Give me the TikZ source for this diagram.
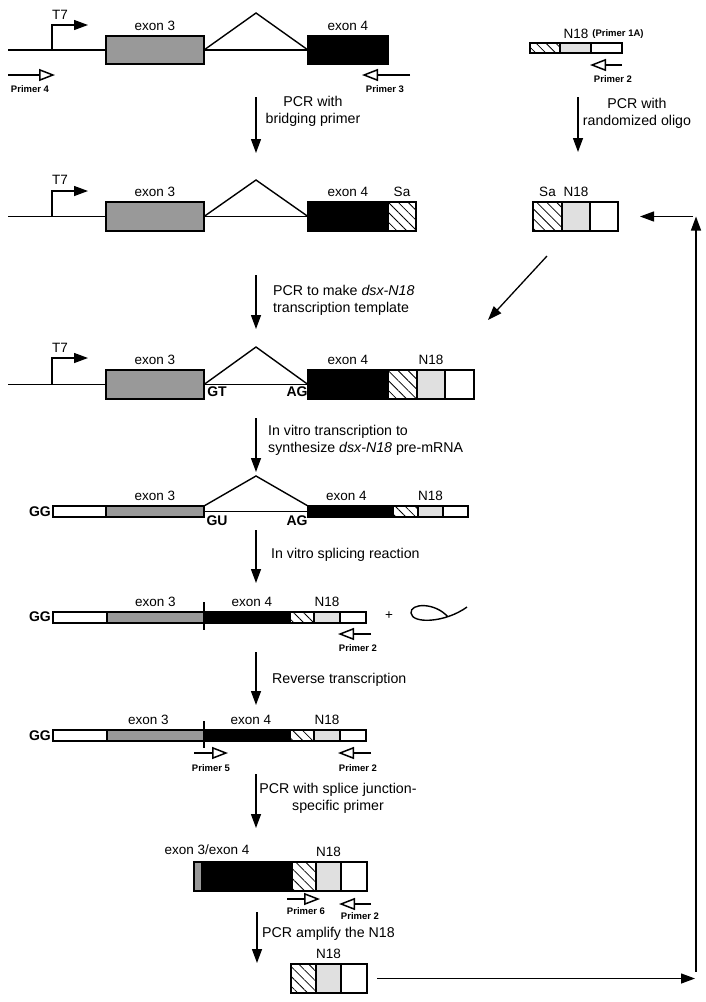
\documentclass[tikz,border=0pt]{standalone}
\usepackage{fontspec}
\setmainfont{Liberation Sans}
\usetikzlibrary{positioning, arrows.meta, patterns.meta}
\definecolor{exongray}{gray}{0.6}
\definecolor{randgray}{gray}{0.88}
\tikzstyle{seg} = [rectangle, draw=black, line width=1.2pt, inner sep=0pt, outer sep=0pt]
\tikzstyle{exonthree} = [seg, fill=exongray]
\tikzstyle{exonfour} = [seg, fill=black]
\tikzstyle{salink} = [seg, pattern={Lines[angle=-45,distance=7pt,line width=0.8pt]}]
\tikzstyle{randomer} = [seg, fill=randgray]
\tikzstyle{tailseg} = [seg, fill=white]
\tikzstyle{dna} = [line width=1.4pt]
\tikzstyle{arrow} = [line width=1.3pt, -{Triangle[length=14pt,width=10pt]}]
\tikzstyle{primer} = [line width=1.5pt, -{Triangle[open,length=16pt,width=12pt]}]
\tikzstyle{exonlabel} = [font=\fontsize{13.5}{15}\selectfont, inner sep=1pt]
\tikzstyle{steplabel} = [font=\fontsize{14.2}{17}\selectfont, align=left, anchor=west, inner sep=0pt]
\tikzstyle{primerlabel} = [font=\bfseries\fontsize{9.5}{11}\selectfont, inner sep=0pt]
\tikzstyle{site} = [font=\bfseries\fontsize{14}{15}\selectfont, inner sep=0pt]
\begin{document}
\begin{tikzpicture}[x=1pt, y=-1pt]
    \useasboundingbox (0,0) rectangle (706,1002);

    % Row 1: dsx genomic template
    \coordinate (r1start) at (8,50);
    \node (ex3a) [exonthree, minimum width=98pt, minimum height=28pt] at (155,50) {};
    \node (ex4a) [exonfour, minimum width=80pt, minimum height=28pt] at (348,50) {};
    \coordinate (apexa) at (256,13);
    \draw [dna] (r1start) -- (ex3a.west);
    \draw [dna] (ex3a.east) -- (ex4a.west);
    \draw [dna] (ex3a.east) -- (apexa) -- (ex4a.west);
    \coordinate (t7a) at (52,50);
    \coordinate (t7atip) at (88,25);
    \draw [arrow] (t7a) |- (t7atip);
    \node (t7alab) [exonlabel] at (60,15) {T7};
    \node (ex3alab) [exonlabel, above=4pt of ex3a] {exon 3};
    \node (ex4alab) [exonlabel, above=4pt of ex4a] {exon 4};
    \coordinate (p4tail) at (8,75);
    \coordinate (p4tip) at (55,75);
    \draw [primer] (p4tail) -- (p4tip);
    \node (p4lab) [primerlabel] at (30,89) {Primer 4};
    \coordinate (p3tail) at (410,75);
    \coordinate (p3tip) at (362,75);
    \draw [primer] (p3tail) -- (p3tip);
    \node (p3lab) [primerlabel] at (385,89) {Primer 3};

    % Randomized oligo (top right)
    \node (saa) [salink, minimum width=30pt, minimum height=10pt] at (545,48) {};
    \node (nra) [randomer, minimum width=31pt, minimum height=10pt] at (575.5,48) {};
    \node (twa) [tailseg, minimum width=31pt, minimum height=10pt] at (606.5,48) {};
    \node (nralab) [exonlabel] at (576,34) {N18};
    \node (p1alab) [primerlabel] at (618,34) {(Primer 1A)};
    \coordinate (p2atail) at (622,65);
    \coordinate (p2atip) at (590,65);
    \draw [primer] (p2atail) -- (p2atip);
    \node (p2alab) [primerlabel] at (613,79) {Primer 2};

    % Steps 1 (left and right)
    \coordinate (s1top) at (256,97);
    \coordinate (s1bot) at (256,153);
    \draw [arrow] (s1top) -- (s1bot);
    \node (s1lab) [steplabel, anchor=center, align=center] at (313,111) {PCR with\\bridging primer};
    \coordinate (s0top) at (578,97);
    \coordinate (s0bot) at (578,152);
    \draw [arrow] (s0top) -- (s0bot);
    \node (s0lab) [steplabel, anchor=center, align=center] at (637,113) {PCR with\\randomized oligo};

    % Row 2: template with Sa
    \coordinate (r2start) at (8,216.5);
    \node (ex3b) [exonthree, minimum width=98pt, minimum height=29pt] at (155,216.5) {};
    \node (ex4b) [exonfour, minimum width=80pt, minimum height=29pt] at (348,216.5) {};
    \node (sab) [salink, minimum width=28pt, minimum height=29pt] at (402,216.5) {};
    \coordinate (apexb) at (256,180);
    \draw [dna] (r2start) -- (ex3b.west);
    \draw [dna] (ex3b.east) -- (ex4b.west);
    \draw [dna] (ex3b.east) -- (apexb) -- (ex4b.west);
    \coordinate (t7b) at (52,216.5);
    \coordinate (t7btip) at (88,191);
    \draw [arrow] (t7b) |- (t7btip);
    \node (t7blab) [exonlabel] at (60,180) {T7};
    \node (ex3blab) [exonlabel, above=4pt of ex3b] {exon 3};
    \node (ex4blab) [exonlabel, above=4pt of ex4b] {exon 4};
    \node (sablab) [exonlabel, above=4pt of sab] {Sa};

    % Sa-N18 product (right)
    \node (sar) [salink, minimum width=29pt, minimum height=29pt] at (547.5,216.5) {};
    \node (nrr) [randomer, minimum width=28pt, minimum height=29pt] at (576,216.5) {};
    \node (twr) [tailseg, minimum width=28pt, minimum height=29pt] at (604,216.5) {};
    \node (sarlab) [exonlabel, above=4pt of sar] {Sa};
    \node (nrrlab) [exonlabel, above=4pt of nrr] {N18};
    \coordinate (diagstart) at (547,256);
    \coordinate (diagend) at (488,320);
    \draw [arrow] (diagstart) -- (diagend);

    % Step 2
    \coordinate (s2top) at (256,275);
    \coordinate (s2bot) at (256,329);
    \draw [arrow] (s2top) -- (s2bot);
    \node (s2lab) [steplabel] at (273,300) {PCR to make \textit{dsx-N18}\\transcription template};

    % Row 3: dsx-N18 transcription template
    \coordinate (r3start) at (8,384.5);
    \node (ex3c) [exonthree, minimum width=98pt, minimum height=29pt] at (155,384.5) {};
    \node (ex4c) [exonfour, minimum width=80pt, minimum height=29pt] at (348,384.5) {};
    \node (sac) [salink, minimum width=29pt, minimum height=29pt] at (402.5,384.5) {};
    \node (nrc) [randomer, minimum width=28pt, minimum height=29pt] at (431,384.5) {};
    \node (twc) [tailseg, minimum width=29pt, minimum height=29pt] at (459.5,384.5) {};
    \coordinate (apexc) at (256,347);
    \draw [dna] (r3start) -- (ex3c.west);
    \draw [dna] (ex3c.east) -- (ex4c.west);
    \draw [dna] (ex3c.east) -- (apexc) -- (ex4c.west);
    \coordinate (t7c) at (52,384.5);
    \coordinate (t7ctip) at (88,358);
    \draw [arrow] (t7c) |- (t7ctip);
    \node (t7clab) [exonlabel] at (60,348) {T7};
    \node (ex3clab) [exonlabel, above=4pt of ex3c] {exon 3};
    \node (ex4clab) [exonlabel, above=4pt of ex4c] {exon 4};
    \node (nrclab) [exonlabel, above=4pt of nrc] {N18};
    \node (gtc) [site] at (217,392) {GT};
    \node (agc) [site] at (297,392) {AG};

    % Step 3
    \coordinate (s3top) at (256,418);
    \coordinate (s3bot) at (256,472);
    \draw [arrow] (s3top) -- (s3bot);
    \node (s3lab) [steplabel] at (268,440) {In vitro transcription to\\synthesize \textit{dsx-N18} pre-mRNA};

    % Row 4: pre-mRNA
    \node (ggd) [site, anchor=east] at (51,512) {GG};
    \node (fivd) [tailseg, minimum width=53pt, minimum height=11pt] at (79.5,511.5) {};
    \node (ex3d) [exonthree, minimum width=98pt, minimum height=11pt] at (155,511.5) {};
    \node (ex4d) [exonfour, minimum width=85pt, minimum height=11pt] at (350.5,511.5) {};
    \node (sad) [salink, minimum width=25pt, minimum height=11pt] at (405.5,511.5) {};
    \node (nrd) [randomer, minimum width=25pt, minimum height=11pt] at (430.5,511.5) {};
    \node (twd) [tailseg, minimum width=25pt, minimum height=11pt] at (455.5,511.5) {};
    \coordinate (apexd) at (256,476);
    \draw [dna] (ex3d.east) -- (ex4d.west);
    \draw [dna] (ex3d.north east) -- (apexd) -- (ex4d.north west);
    \node (ex3dlab) [exonlabel, above=4pt of ex3d] {exon 3};
    \node (ex4dlab) [exonlabel, above=4pt of ex4d, xshift=-4pt] {exon 4};
    \node (nrdlab) [exonlabel, above=4pt of nrd] {N18};
    \node (gud) [site] at (217,521) {GU};
    \node (agd) [site] at (297,521) {AG};

    % Step 4
    \coordinate (s4top) at (256,530);
    \coordinate (s4bot) at (256,583);
    \draw [arrow] (s4top) -- (s4bot);
    \node (s4lab) [steplabel] at (271,555) {In vitro splicing reaction};

    % Row 5: spliced mRNA and lariat
    \node (gge) [site, anchor=east] at (51,617) {GG};
    \node (five) [tailseg, minimum width=54pt, minimum height=11pt] at (80,617.5) {};
    \node (ex3e) [exonthree, minimum width=97pt, minimum height=11pt] at (155.5,617.5) {};
    \node (ex4e) [exonfour, minimum width=86pt, minimum height=11pt] at (247,617.5) {};
    \node (sae) [salink, minimum width=24pt, minimum height=11pt] at (302,617.5) {};
    \node (nre) [randomer, minimum width=26pt, minimum height=11pt] at (327,617.5) {};
    \node (twe) [tailseg, minimum width=26pt, minimum height=11pt] at (353,617.5) {};
    \coordinate (ticketop) at (204,602);
    \coordinate (ticke) at (204,630);
    \draw [dna] (ticketop) -- (ticke);
    \node (ex3elab) [exonlabel, above=4pt of ex3e] {exon 3};
    \node (ex4elab) [exonlabel, above=4pt of ex4e, xshift=5pt] {exon 4};
    \node (nrelab) [exonlabel, above=4pt of nre] {N18};
    \node (pluse) [exonlabel] at (389,616) {+};
    \draw [dna] (448,617) .. controls (435,602) and (410,603) .. (411,613)
        .. controls (412,624) and (445,623) .. (467,607);
    \coordinate (p2etail) at (371,634);
    \coordinate (p2etip) at (338,634);
    \draw [primer] (p2etail) -- (p2etip);
    \node (p2elab) [primerlabel] at (358,648) {Primer 2};

    % Step 5
    \coordinate (s5top) at (256,652);
    \coordinate (s5bot) at (256,705);
    \draw [arrow] (s5top) -- (s5bot);
    \node (s5lab) [steplabel] at (272,680) {Reverse transcription};

    % Row 6: cDNA
    \node (ggf) [site, anchor=east] at (51,736) {GG};
    \node (fivf) [tailseg, minimum width=54pt, minimum height=11pt] at (80,735.5) {};
    \node (ex3f) [exonthree, minimum width=97pt, minimum height=11pt] at (155.5,735.5) {};
    \node (ex4f) [exonfour, minimum width=86pt, minimum height=11pt] at (247,735.5) {};
    \node (saf) [salink, minimum width=24pt, minimum height=11pt] at (302,735.5) {};
    \node (nrf) [randomer, minimum width=26pt, minimum height=11pt] at (327,735.5) {};
    \node (twf) [tailseg, minimum width=26pt, minimum height=11pt] at (353,735.5) {};
    \coordinate (tickftop) at (204,721);
    \coordinate (tickf) at (204,748);
    \draw [dna] (tickftop) -- (tickf);
    \node (ex3flab) [exonlabel, above=4pt of ex3f, xshift=-7pt] {exon 3};
    \node (ex4flab) [exonlabel, above=4pt of ex4f, xshift=4pt] {exon 4};
    \node (nrflab) [exonlabel, above=4pt of nrf] {N18};
    \coordinate (p5tail) at (194,753);
    \coordinate (p5tip) at (228,753);
    \draw [primer] (p5tail) -- (p5tip);
    \node (p5lab) [primerlabel] at (211,768) {Primer 5};
    \coordinate (p2ftail) at (371,753);
    \coordinate (p2ftip) at (338,753);
    \draw [primer] (p2ftail) -- (p2ftip);
    \node (p2flab) [primerlabel] at (358,768) {Primer 2};

    % Step 6
    \coordinate (s6top) at (256,774);
    \coordinate (s6bot) at (256,828);
    \draw [arrow] (s6top) -- (s6bot);
    \node (s6lab) [steplabel, anchor=center, align=center] at (338,798) {PCR with splice junction-\\specific primer};

    % Row 7: junction product
    \node (ex3g) [exonthree, minimum width=8pt, minimum height=29pt] at (198,876.5) {};
    \node (ex4g) [exonfour, minimum width=90pt, minimum height=29pt] at (247,876.5) {};
    \node (sag) [salink, minimum width=24pt, minimum height=29pt] at (304,876.5) {};
    \node (nrg) [randomer, minimum width=25pt, minimum height=29pt] at (328.5,876.5) {};
    \node (twg) [tailseg, minimum width=26pt, minimum height=29pt] at (354,876.5) {};
    \node (junclab) [exonlabel] at (207,850) {exon 3/exon 4};
    \node (nrglab) [exonlabel, above=4pt of nrg] {N18};
    \coordinate (p6tail) at (287,899);
    \coordinate (p6tip) at (320,899);
    \draw [primer] (p6tail) -- (p6tip);
    \node (p6lab) [primerlabel] at (306,911) {Primer 6};
    \coordinate (p2gtail) at (371,904);
    \coordinate (p2gtip) at (339,904);
    \draw [primer] (p2gtail) -- (p2gtip);
    \node (p2glab) [primerlabel] at (360,916) {Primer 2};

    % Step 7
    \coordinate (s7top) at (257,912);
    \coordinate (s7bot) at (257,963);
    \draw [arrow] (s7top) -- (s7bot);
    \node (s7lab) [steplabel] at (262,934) {PCR amplify the N18};

    % Row 8: amplified N18, back to the start of the cycle
    \node (sah) [salink, minimum width=25pt, minimum height=29pt] at (303.5,978.5) {};
    \node (nrh) [randomer, minimum width=25pt, minimum height=29pt] at (328.5,978.5) {};
    \node (twh) [tailseg, minimum width=26pt, minimum height=29pt] at (354,978.5) {};
    \node (nrhlab) [exonlabel, above=4pt of nrh] {N18};
    \coordinate (cornerlow) at (695,978.5);
    \coordinate (cornerhigh) at (696,216.5);
    \draw [arrow, shorten <=10pt] (twh.east) -- (cornerlow);
    \draw [arrow, shorten <=7pt] (cornerlow -| cornerhigh) -- (cornerhigh);
    \draw [arrow, shorten <=3pt, shorten >=22pt] (cornerhigh) -- (twr.east);

\end{tikzpicture}
\end{document}
